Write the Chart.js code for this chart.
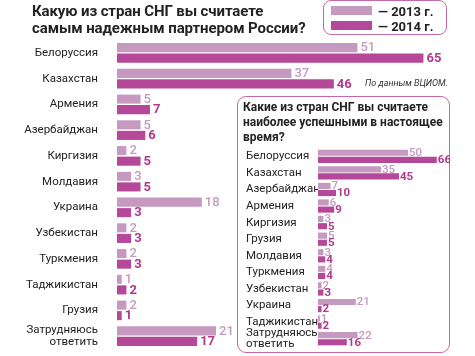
<!DOCTYPE html>
<html>
<head>
<meta charset="utf-8">
<script src="https://cdn.jsdelivr.net/npm/chart.js@4.4.1/dist/chart.umd.min.js"></script>
<style>
  html, body { margin: 0; padding: 0; background: #fff; }
  body { width: 475px; height: 356px; position: relative; overflow: hidden; font-family: Roboto, "Noto Sans", sans-serif; color: #222; }
  .abs { position: absolute; }
  #title { left: 32px; top: 3px; font-weight: bold; font-size: 15px; line-height: 17px; color: #222; letter-spacing: -0.1px; }
  #legend { left: 323px; top: 0px; width: 122px; height: 33px; border: 1.5px solid #c26aa9; border-radius: 8px; background: #fff; }
  .sw { position: absolute; left: 7px; width: 41px; height: 9px; }
  .lt { position: absolute; left: 54px; font-weight: bold; font-size: 13px; line-height: 13px; color: #222; }
  #source { left: 365px; top: 78px; font-style: italic; font-size: 9px; color: #333; }
  #insetBox { left: 237px; top: 96px; width: 211px; height: 255px; border: 1.5px solid #c26aa9; border-radius: 9px; background: #fff; }
  #insetTitle { left: 243px; top: 100px; font-weight: bold; font-size: 12px; line-height: 15px; color: #222; }
</style>
</head>
<body>
<canvas id="main" class="abs" style="left:0;top:0" width="475" height="356"></canvas>
<div id="title" class="abs">Какую из стран СНГ вы считаете<br>самым надежным партнером России?</div>
<div id="legend" class="abs">
  <div class="sw" style="top:5px;background:#c699c0"></div><div class="lt" style="top:4px">— 2013 г.</div>
  <div class="sw" style="top:20px;background:#b6489a"></div><div class="lt" style="top:19px">— 2014 г.</div>
</div>
<div id="source" class="abs">По данным ВЦИОМ.</div>
<div id="insetBox" class="abs"></div>
<div id="insetTitle" class="abs">Какие из стран СНГ вы считаете<br>наиболее успешными в настоящее<br>время?</div>
<canvas id="inset" class="abs" style="left:237px;top:96px" width="213" height="257"></canvas>
<script>
const mainCategories = ['Белоруссия','Казахстан','Армения','Азербайджан','Киргизия','Молдавия','Украина','Узбекистан','Туркмения','Таджикистан','Грузия',['Затрудняюсь','ответить']];
const main2013 = [51,37,5,5,2,3,18,2,2,1,2,21];
const main2014 = [65,46,7,6,5,5,3,3,3,2,1,17];

const insetCategories = ['Белоруссия','Казахстан','Азербайджан','Армения','Киргизия','Грузия','Молдавия','Туркмения','Узбекистан','Украина','Таджикистан',['Затрудняюсь','ответить']];
const inset2013 = [50,35,7,6,3,5,3,4,2,21,1,22];
const inset2014 = [66,45,10,9,5,5,4,4,3,2,2,16];

const seriesLabels = ['2013 г.','2014 г.'];
const COL13 = '#c699c0', COL14 = '#b6489a';
const TXT13 = '#c49bc0', TXT14 = '#b03a8e';

const valueLabels = {
  id: 'valueLabels',
  afterDatasetsDraw(chart, args, opts) {
    const ctx = chart.ctx;
    chart.data.datasets.forEach((ds, i) => {
      const meta = chart.getDatasetMeta(i);
      meta.data.forEach((bar, j) => {
        ctx.save();
        ctx.font = (i === 0 ? opts.weight13 : 'bold') + ' ' + opts.size + 'px Roboto, "Noto Sans", sans-serif';
        ctx.fillStyle = i === 0 ? TXT13 : TXT14;
        ctx.textAlign = 'left';
        ctx.textBaseline = 'middle';
        ctx.fillText(String(ds.data[j]), bar.x + opts.gap, bar.y + 0.5);
        ctx.restore();
      });
    });
  }
};

function makeChart(id, cats, d13, d14, cfg) {
  return new Chart(document.getElementById(id), {
    type: 'bar',
    data: {
      labels: cats,
      datasets: [
        { label: seriesLabels[0], data: d13, backgroundColor: COL13, categoryPercentage: cfg.cp, barPercentage: cfg.bp },
        { label: seriesLabels[1], data: d14, backgroundColor: COL14, categoryPercentage: cfg.cp, barPercentage: cfg.bp }
      ]
    },
    plugins: [valueLabels],
    options: {
      indexAxis: 'y',
      responsive: false,
      animation: false,
      layout: { padding: cfg.padding },
      plugins: {
        legend: { display: false },
        tooltip: { enabled: false },
        valueLabels: { size: cfg.valSize, gap: cfg.gap, weight13: cfg.w13 }
      },
      scales: {
        x: { display: false, min: 0, max: 70 },
        y: {
          z: 1,
          grid: { display: false, drawTicks: false },
          border: { display: false },
          ticks: {
            padding: cfg.tickPad,
            crossAlign: cfg.crossAlign,
            color: '#222',
            autoSkip: false,
            font: { family: 'Roboto, "Noto Sans", sans-serif', size: cfg.labSize, lineHeight: cfg.lh }
          },
          afterFit(s) { s.width = cfg.yWidth; s.paddingTop = 0; s.paddingBottom = 0; }
        }
      }
    }
  });
}

makeChart('main', mainCategories, main2013, main2014, {
  cp: 0.82, bp: 0.86,
  padding: { top: 40, bottom: 7, left: 0, right: 28 },
  valSize: 13, gap: 3, w13: '500',
  tickPad: 19, crossAlign: 'near', labSize: 11.5, lh: 1.05, yWidth: 117
});

makeChart('inset', insetCategories, inset2013, inset2014, {
  cp: 0.86, bp: 0.86,
  padding: { top: 52, bottom: 6, left: 9, right: 6 },
  valSize: 11.5, gap: 1, w13: '500',
  tickPad: 4, crossAlign: 'far', labSize: 11.5, lh: 1.0, yWidth: 72
});
</script>
</body>
</html>
